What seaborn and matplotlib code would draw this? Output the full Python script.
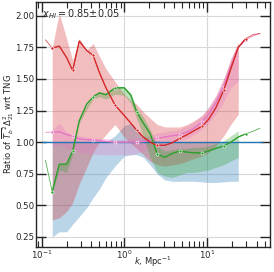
import numpy as np
import pandas as pd
import matplotlib
matplotlib.use("Agg")
import matplotlib.pyplot as plt
import seaborn as sns
from matplotlib.ticker import LogLocator, NullFormatter, MultipleLocator

# k grid (Mpc^-1), thin lines use all of it, thick lines k[1:29], bands k[1:28]
k = [0.111, 0.134, 0.163, 0.20, 0.237, 0.285, 0.35, 0.42, 0.50, 0.60, 0.77,
     1.0, 1.2, 1.41, 1.7, 2.05, 2.5, 3.1, 3.8, 4.7, 5.8, 7.0, 8.7, 10.5,
     12.8, 16.0, 19.5, 24.0, 29.5, 36.0, 44.0]

red_med = [1.81, 1.745, 1.76, 1.67, 1.567, 1.80, 1.726, 1.686, 1.55, 1.43, 1.295,
           1.21, 1.15, 1.096, 1.04, 1.0, 0.975, 0.975, 0.995, 1.03, 1.06, 1.09,
           1.125, 1.18, 1.27, 1.41, 1.58, 1.75, 1.82, 1.85, 1.86]
red_lo = [0.385, 0.40, 0.45, 0.52, 0.67, 0.80, 0.92, 1.0, 1.06, 1.14, 1.04,
          0.99, 0.95, 0.90, 0.85, 0.82, 0.81, 0.82, 0.83, 0.85, 0.87, 0.89,
          0.92, 0.97, 1.05, 1.14, 1.22]
red_hi = [1.75, 2.02, 1.82, 1.646, 1.82, 1.73, 1.78, 1.68, 1.58, 1.48, 1.38,
          1.33, 1.30, 1.24, 1.19, 1.14, 1.12, 1.12, 1.12, 1.14, 1.17, 1.21,
          1.27, 1.36, 1.50, 1.66, 1.79]

green_med = [0.856, 0.607, 0.825, 0.825, 0.93, 1.17, 1.30, 1.36, 1.39, 1.375, 1.43,
             1.43, 1.37, 1.24, 1.15, 1.07, 0.905, 0.88, 0.91, 0.93, 0.92, 0.915,
             0.915, 0.93, 0.95, 0.97, 1.0, 1.04, 1.066, 1.085, 1.11]
green_lo = [0.60, 0.78, 0.76, 0.90, 1.15, 1.26, 1.34, 1.36, 1.34, 1.38, 1.37,
            1.31, 1.19, 1.05, 0.88, 0.76, 0.73, 0.72, 0.74, 0.76, 0.76, 0.77,
            0.78, 0.80, 0.82, 0.85, 0.88]
green_hi = [0.62, 0.83, 0.83, 0.94, 1.18, 1.29, 1.37, 1.40, 1.39, 1.44, 1.44,
            1.39, 1.27, 1.20, 1.10, 0.97, 0.93, 0.94, 0.95, 0.95, 0.96, 0.96,
            0.97, 0.99, 1.01, 1.05, 1.09]

pink_med = [1.077, 1.08, 1.082, 1.06, 1.045, 1.025, 1.02, 1.016, 1.01, 1.005, 1.0,
            1.0, 1.0, 1.0, 1.005, 1.015, 1.03, 1.04, 1.05, 1.06, 1.08, 1.11,
            1.157, 1.22, 1.31, 1.44, 1.60, 1.75, 1.81, 1.84, 1.86]
pink_lo = [0.97, 0.98, 0.95, 0.94, 0.92, 0.91, 0.905, 0.90, 0.90, 0.90, 0.90,
           0.90, 0.91, 0.93, 0.96, 0.98, 0.99, 1.0, 1.01, 1.03, 1.06, 1.10,
           1.15, 1.22, 1.32, 1.43, 1.48]
pink_hi = [1.10, 1.15, 1.08, 1.06, 1.05, 1.04, 1.035, 1.03, 1.03, 1.02, 1.02,
           1.03, 1.03, 1.04, 1.05, 1.07, 1.08, 1.09, 1.10, 1.13, 1.16, 1.21,
           1.28, 1.37, 1.50, 1.65, 1.78]

tng_k = [0.1, 47.0]
tng_ratio = [1.0, 1.0]
tng_lo = [0.25, 0.29, 0.29, 0.35, 0.41, 0.48, 0.56, 0.63, 0.72, 0.81, 0.89,
          0.90, 0.90, 0.88, 0.82, 0.75, 0.70, 0.69, 0.69, 0.69, 0.69, 0.685,
          0.68, 0.68, 0.685, 0.69, 0.69]
tng_hi = [1.0, 1.0, 1.0, 1.0, 1.0, 1.0, 1.0, 1.0, 1.0, 1.05, 1.13,
          1.15, 1.10, 1.05, 1.02, 1.01, 1.0, 1.0, 1.0, 1.0, 1.0, 1.0,
          1.0, 1.0, 1.0, 1.0, 1.0]

sns.set_style("ticks")
plt.rcParams['font.family'] = ['DejaVu Sans']

fig, ax = plt.subplots(figsize=(2.74, 2.72), dpi=100)
fig.subplots_adjust(left=0.131, right=0.985, bottom=0.092, top=0.993)

kb = k[1:28]
bands = [(tng_lo, tng_hi, 'C0'), (red_lo, red_hi, 'C3'),
         (pink_lo, pink_hi, 'C6'), (green_lo, green_hi, 'C2')]
for lo, hi, c in bands:
    ax.fill_between(kb, lo, hi, color=c, alpha=0.3, lw=0)

sns.lineplot(x=tng_k, y=tng_ratio, ax=ax, color='C0', lw=1.0)
for med, c in [(pink_med, 'C6'), (green_med, 'C2'), (red_med, 'C3')]:
    sns.lineplot(x=k, y=med, ax=ax, color=c, lw=0.6, alpha=0.8,
                 estimator=None, sort=False)
    sns.lineplot(x=k[1:29], y=med[1:29], ax=ax, color=c, lw=0.9,
                 estimator=None, sort=False, marker='o', markersize=2.2,
                 markeredgewidth=0.4, markevery=list(range(0, 28, 3)))

ax.set_xscale('log')
ax.set_xlim(0.085, 58)
ax.set_ylim(0.17, 2.11)
ax.yaxis.set_major_locator(MultipleLocator(0.25))
ax.xaxis.set_major_locator(LogLocator(base=10))
ax.xaxis.set_minor_locator(LogLocator(base=10, subs=np.arange(2, 10)))
ax.xaxis.set_minor_formatter(NullFormatter())
ax.grid(True, which='major', color='#d8d8d8', lw=0.8)
ax.set_axisbelow(True)

ax.tick_params(which='both', direction='in', top=True, right=True,
               labelsize=6.2, pad=1.2)
ax.tick_params(which='major', length=7, width=1.0)
ax.tick_params(which='minor', length=4, width=0.8)
for s in ax.spines.values():
    s.set_linewidth(1.0)

ax.set_xlabel(r'$k$, Mpc$^{-1}$', fontsize=6, va='center')
ax.xaxis.set_label_coords(0.5, -0.062)
ax.set_ylabel(r'Ratio of $\overline{T_b}^2\Delta^2_{21}$ wrt TNG', fontsize=6,
              va='center')
ax.yaxis.set_label_coords(-0.118, 0.5)
ax.text(0.026, 0.978, r'$x_{HI} = 0.85{\pm}0.05$', transform=ax.transAxes,
        ha='left', va='top', fontsize=7)

fig.savefig('out.png', dpi=100)
